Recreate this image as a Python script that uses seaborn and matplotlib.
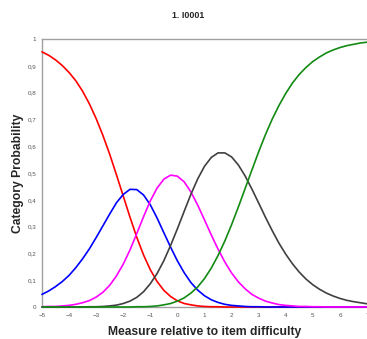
import numpy as np
import pandas as pd
import matplotlib.pyplot as plt
import seaborn as sns

# values, every quarter logit from -5 to 7
measure = [-5, -4.75, -4.5, -4.25, -4, -3.75, -3.5, -3.25, -3, -2.75, -2.5, -2.25,
           -2, -1.75, -1.5, -1.25, -1, -0.75, -0.5, -0.25, 0, 0.25, 0.5, 0.75,
           1, 1.25, 1.5, 1.75, 2, 2.25, 2.5, 2.75, 3, 3.25, 3.5, 3.75,
           4, 4.25, 4.5, 4.75, 5, 5.25, 5.5, 5.75, 6, 6.25, 6.5, 6.75, 7]

cat_1 = [0.952, 0.939, 0.922, 0.901, 0.875, 0.844, 0.805, 0.758, 0.703, 0.640, 0.570, 0.493,
         0.414, 0.335, 0.260, 0.194, 0.139, 0.095, 0.062, 0.039, 0.023, 0.013, 0.008, 0.004,
         0.002, 0.001, 0.001, 0.000, 0.000, 0.000, 0.000, 0.000, 0.000, 0.000, 0.000, 0.000,
         0.000, 0.000, 0.000, 0.000, 0.000, 0.000, 0.000, 0.000, 0.000, 0.000, 0.000, 0.000, 0.000]
cat_2 = [0.047, 0.060, 0.076, 0.095, 0.118, 0.147, 0.180, 0.217, 0.259, 0.303, 0.347, 0.389,
         0.420, 0.439, 0.438, 0.418, 0.381, 0.332, 0.277, 0.223, 0.172, 0.128, 0.091, 0.063,
         0.042, 0.027, 0.017, 0.010, 0.006, 0.004, 0.002, 0.001, 0.001, 0.000, 0.000, 0.000,
         0.000, 0.000, 0.000, 0.000, 0.000, 0.000, 0.000, 0.000, 0.000, 0.000, 0.000, 0.000, 0.000]
cat_3 = [0.001, 0.002, 0.002, 0.004, 0.006, 0.010, 0.016, 0.024, 0.037, 0.055, 0.081, 0.116,
         0.160, 0.213, 0.274, 0.337, 0.396, 0.444, 0.477, 0.492, 0.488, 0.467, 0.429, 0.380,
         0.325, 0.269, 0.216, 0.168, 0.127, 0.094, 0.068, 0.047, 0.033, 0.022, 0.015, 0.009,
         0.006, 0.004, 0.002, 0.002, 0.001, 0.001, 0.000, 0.000, 0.000, 0.000, 0.000, 0.000, 0.000]
cat_4 = [0.000, 0.000, 0.000, 0.000, 0.000, 0.000, 0.000, 0.001, 0.001, 0.002, 0.004, 0.007,
         0.013, 0.022, 0.036, 0.057, 0.087, 0.125, 0.173, 0.230, 0.292, 0.357, 0.421, 0.478,
         0.525, 0.558, 0.575, 0.575, 0.560, 0.530, 0.489, 0.440, 0.388, 0.335, 0.285, 0.238,
         0.197, 0.161, 0.130, 0.104, 0.083, 0.066, 0.052, 0.041, 0.032, 0.025, 0.020, 0.016, 0.012]
cat_5 = [0.000, 0.000, 0.000, 0.000, 0.000, 0.000, 0.000, 0.000, 0.000, 0.000, 0.000, 0.000,
         0.000, 0.000, 0.001, 0.001, 0.002, 0.004, 0.008, 0.013, 0.022, 0.034, 0.052, 0.075,
         0.106, 0.145, 0.192, 0.246, 0.307, 0.373, 0.442, 0.511, 0.579, 0.643, 0.701, 0.752,
         0.797, 0.836, 0.868, 0.894, 0.916, 0.933, 0.948, 0.959, 0.968, 0.975, 0.980, 0.985, 0.988]

x_ticks = [-5, -4, -3, -2, -1, 0, 1, 2, 3, 4, 5, 6, 7]
y_ticks = [0, 0.1, 0.2, 0.3, 0.4, 0.5, 0.6, 0.7, 0.8, 0.9, 1]

df = pd.DataFrame({"measure": measure, "1": cat_1, "2": cat_2, "3": cat_3,
                   "4": cat_4, "5": cat_5})
df = df.melt(id_vars="measure", var_name="category", value_name="prob")

colors = {"1": "#ff0000", "2": "#0000ff", "3": "#ff00ff", "4": "#404040", "5": "#138a13"}

sns.set_style("white")
plt.rcParams['font.family'] = ['Liberation Sans', 'DejaVu Sans']

fig = plt.figure(figsize=(3.67, 3.39), dpi=100)
ax = fig.add_axes([0.1144, 0.0944, 0.8856, 0.7906])

sns.lineplot(data=df, x="measure", y="prob", hue="category", palette=colors,
             linewidth=1.2, legend=False, ax=ax)
# let the curves sit on top of the bottom spine like in the original
for line in ax.lines:
    line.set_clip_on(False)
    line.set_zorder(5)

ax.set_xlim(-5, 7)
ax.set_ylim(0, 1)
ax.set_xticks(x_ticks)
ax.set_yticks(y_ticks)
ax.set_yticklabels(["0"] + [f"{v:.1f}".replace(".", ",") for v in y_ticks[1:-1]] + ["1"])

for side in ["left", "bottom", "top"]:
    ax.spines[side].set_color("#a0a0a0")
    ax.spines[side].set_linewidth(1.0)
ax.spines["right"].set_visible(False)
ax.tick_params(direction="inout", length=4, width=0.8, color="#909090",
               labelsize=4.5, labelcolor="#555555", pad=2)

ax.set_xlabel("Measure relative to item difficulty", fontsize=8.7, fontweight="bold", labelpad=6)
ax.set_ylabel("Category Probability", fontsize=8.7, fontweight="bold", labelpad=3)
fig.text(188 / 367, 0.954, "1. I0001", fontsize=6.4, fontweight="bold", ha="center", va="center")

fig.savefig("out.png", dpi=100)
